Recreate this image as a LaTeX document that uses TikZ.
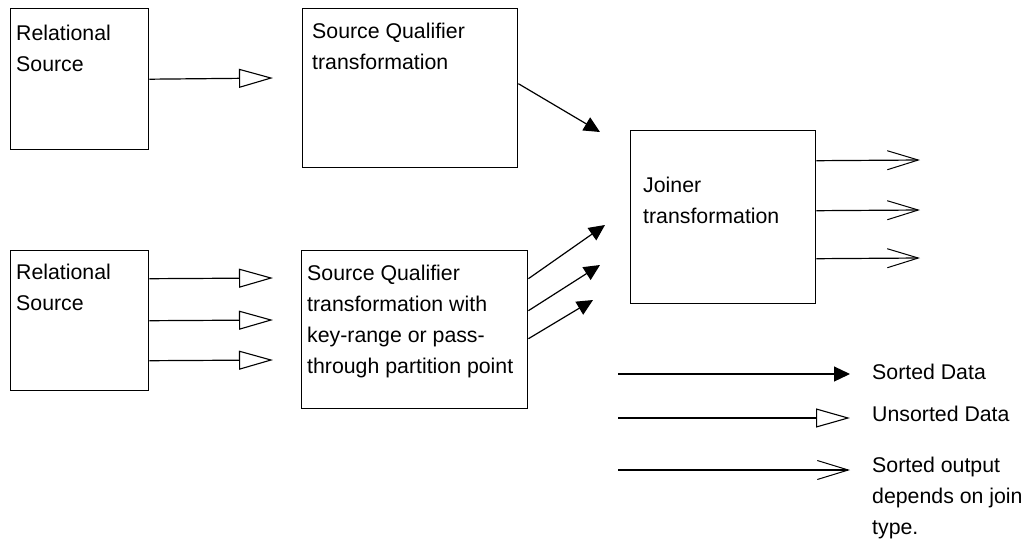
\documentclass[tikz,border=0pt]{standalone}
\usepackage{fontspec}
\setmainfont{Liberation Sans}
\usetikzlibrary{arrows.meta}

\tikzset{
  box/.style={draw, line width=1.4pt, inner sep=0pt, anchor=north west},
  boxtext/.style={inner sep=0pt, anchor=north west, align=left, font=\fontsize{21.3}{31}\selectfont},
  legtext/.style={inner sep=0pt, anchor=base west, align=left, font=\fontsize{21.3}{31}\selectfont},
  sorted/.style={line width=1.2pt, -{Triangle[length=16pt, width=15pt]}},
  unsorted/.style={line width=1.2pt, -{Triangle[open, length=34pt, width=19pt, line width=1.1pt]}},
  joinout/.style={line width=1.2pt, -{Straight Barb[length=31pt, width=19pt, line width=1pt]}}
}

\begin{document}
\begin{tikzpicture}[x=1pt, y=-1pt]
  \useasboundingbox (0,0) rectangle (1036,544);

  \node[box, minimum width=138pt, minimum height=141pt] (rs1) at (10,8) {};
  \node[box, minimum width=215pt, minimum height=159pt] (sq1) at (302,8) {};
  \node[box, minimum width=185pt, minimum height=173pt] (jn) at (630,130) {};
  \node[box, minimum width=138pt, minimum height=140pt] (rs2) at (10,250) {};
  \node[box, minimum width=226pt, minimum height=158pt] (sq2) at (301,250) {};

  \node[boxtext] (rs1t) at (16,25) {Relational\\Source};
  \node[boxtext] (sq1t) at (312,23) {Source Qualifier\\transformation};
  \node[boxtext] (jnt) at (643,177) {Joiner\\transformation};
  \node[boxtext] (rs2t) at (16,264) {Relational\\Source};
  \node[boxtext] (sq2t) at (307,265) {Source Qualifier\\transformation with\\key-range or pass-\\through partition point};

  \coordinate (u1) at (273,78);
  \coordinate (u2) at (273,278);
  \coordinate (u3) at (273,320);
  \coordinate (u4) at (273,360);
  \coordinate (s1) at (600,132);
  \coordinate (s2) at (605,225);
  \coordinate (s3) at (600,265);
  \coordinate (s4) at (593,300);
  \coordinate (o1) at (920,160);
  \coordinate (o2) at (920,210);
  \coordinate (o3) at (920,258);

  \draw[unsorted] (rs1.east) -- (u1);
  \draw[unsorted] ([yshift=42pt]rs2.east) -- (u2);
  \draw[unsorted] (rs2.east) -- (u3);
  \draw[unsorted] ([yshift=-40pt]rs2.east) -- (u4);
  \draw[sorted] ([yshift=4.5pt]sq1.east) -- (s1);
  \draw[sorted] ([yshift=51pt]sq2.east) -- (s2);
  \draw[sorted] ([yshift=19pt]sq2.east) -- (s3);
  \draw[sorted] ([yshift=-9pt]sq2.east) -- (s4);
  \draw[joinout] ([yshift=56.5pt]jn.east) -- (o1);
  \draw[joinout] ([yshift=6.5pt]jn.east) -- (o2);
  \draw[joinout] ([yshift=-41.5pt]jn.east) -- (o3);

  % legend
  \coordinate (l1a) at (618,374);
  \coordinate (l1b) at (850,374);
  \coordinate (l2a) at (618,418);
  \coordinate (l2b) at (850,418);
  \coordinate (l3a) at (618,470);
  \coordinate (l3b) at (850,470);
  \draw[sorted] (l1a) -- (l1b);
  \draw[unsorted] (l2a) -- (l2b);
  \draw[joinout] (l3a) -- (l3b);
  \node[legtext] (lg1) at (872,379) {Sorted Data};
  \node[legtext] (lg2) at (872,421) {Unsorted Data};
  \node[boxtext] (lg3) at (872,457) {Sorted output\\depends on join\\type.};
\end{tikzpicture}
\end{document}
